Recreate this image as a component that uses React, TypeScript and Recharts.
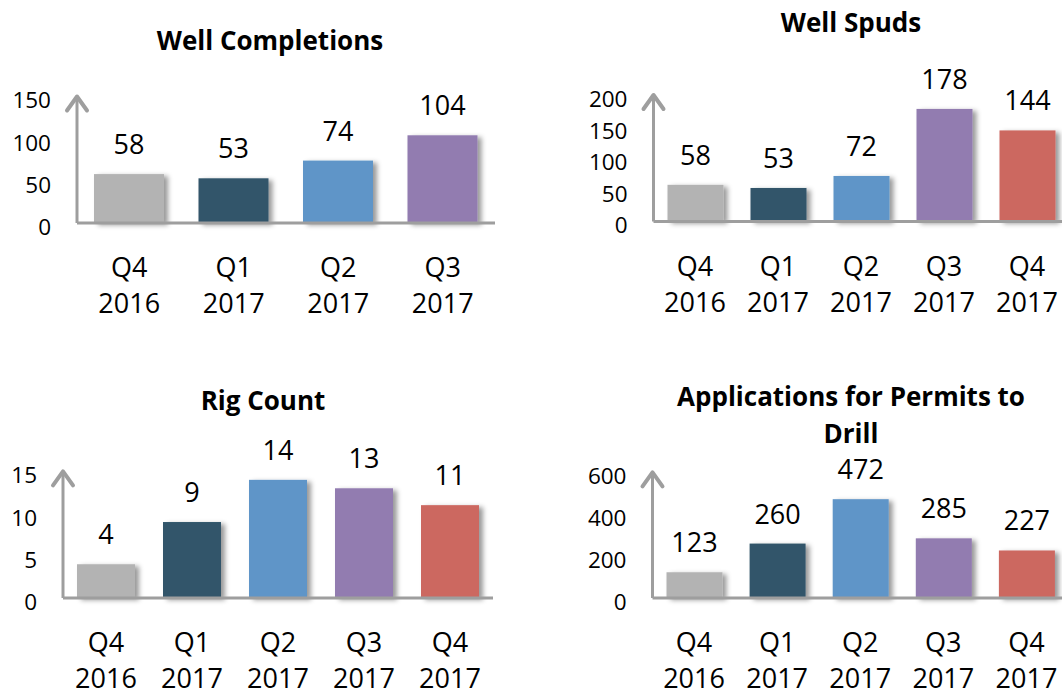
import React from 'react';
import { BarChart, Bar, XAxis, YAxis, Cell, LabelList } from 'recharts';

const FONT = '"Open Sans", "Noto Sans", sans-serif';
const AXIS_GRAY = '#9e9e9e';

const completionQuarters = ['Q4 2016', 'Q1 2017', 'Q2 2017', 'Q3 2017'];
const completionValues = [58, 53, 74, 104];
const completionTicks = [0, 50, 100, 150];

const quarters = ['Q4 2016', 'Q1 2017', 'Q2 2017', 'Q3 2017', 'Q4 2017'];
const spudValues = [58, 53, 72, 178, 144];
const spudTicks = [0, 50, 100, 150, 200];

const rigValues = [4, 9, 14, 13, 11];
const rigTicks = [0, 5, 10, 15];

const apdValues = [123, 260, 472, 285, 227];
const apdTicks = [0, 200, 400, 600];

const barColors = ['#b3b3b3', '#31556a', '#5e95c8', '#927bb0', '#cc6760'];

const toRows = (cats: string[], vals: number[]) => cats.map((q, i) => ({ q, v: vals[i] }));

const YTick = (props: any) => {
  const { x, y, payload } = props;
  return (
    <text x={x} y={y + 4} dy="0.355em" textAnchor="end" fontSize={22.5} fill="#000" fontFamily={FONT}>
      {payload.value}
    </text>
  );
};

const XTick = (props: any) => {
  const { x, y, payload } = props;
  const [q, yr] = String(payload.value).split(' ');
  return (
    <text textAnchor="middle" fontSize={27} fill="#000" fontFamily={FONT}>
      <tspan x={x} y={y + 54}>{q}</tspan>
      <tspan x={x} y={y + 90}>{yr}</tspan>
    </text>
  );
};

const ShadowBar = (props: any) => {
  const { x, y, width, height, fill } = props;
  if (!height || height <= 0) return null;
  return <rect x={x} y={y} width={width} height={height} fill={fill} filter="url(#barShadow)" />;
};

interface PanelProps {
  left: number;
  top: number;
  width: number;
  marginLeft: number;
  marginTop: number;
  plotHeight: number;
  data: { q: string; v: number }[];
  ticks: number[];
  barSize: number;
}

const Panel = ({ left, top, width, marginLeft, marginTop, plotHeight, data, ticks, barSize }: PanelProps) => {
  const height = marginTop + plotHeight + 100;
  return (
    <div style={{ position: 'absolute', left, top }}>
      <BarChart
        width={width}
        height={height}
        data={data}
        margin={{ top: marginTop, right: 0, left: marginLeft, bottom: 0 }}
        barCategoryGap={0}
      >
        <XAxis
          dataKey="q"
          type="category"
          height={100}
          interval={0}
          tickLine={false}
          tickSize={0}
          tickMargin={0}
          tick={<XTick />}
          axisLine={{ stroke: AXIS_GRAY, strokeWidth: 3 }}
        />
        <YAxis
          type="number"
          width={60}
          domain={[0, ticks[ticks.length - 1]]}
          ticks={ticks}
          interval={0}
          tickLine={false}
          tickSize={0}
          tickMargin={26}
          tick={<YTick />}
          axisLine={{ stroke: AXIS_GRAY, strokeWidth: 3, markerStart: 'url(#axisArrow)' }}
        />
        <Bar dataKey="v" barSize={barSize} isAnimationActive={false} shape={<ShadowBar />}>
          {data.map((d, i) => (
            <Cell key={d.q} fill={barColors[i]} />
          ))}
          <LabelList dataKey="v" position="top" offset={20} fill="#000" fontSize={27} fontFamily={FONT} />
        </Bar>
      </BarChart>
    </div>
  );
};

const Title = ({ cx, cy, lines }: { cx: number; cy: number; lines: string[] }) => (
  <div
    style={{
      position: 'absolute',
      left: cx,
      top: cy,
      transform: 'translate(-50%, -50%)',
      whiteSpace: 'nowrap',
      textAlign: 'center',
      fontFamily: FONT,
      fontWeight: 700,
      fontSize: 26,
      lineHeight: '37px',
      color: '#000',
    }}
  >
    {lines.map((l) => (
      <div key={l}>{l}</div>
    ))}
  </div>
);

export default function App() {
  return (
    <div
      style={{
        position: 'absolute',
        left: 0,
        top: 0,
        width: 1062,
        height: 698,
        overflow: 'hidden',
        background: '#fff',
      }}
    >
      <svg width={0} height={0} style={{ position: 'absolute' }}>
        <defs>
          <filter id="barShadow" x="-20%" y="-20%" width="150%" height="150%">
            <feDropShadow dx={4} dy={2} stdDeviation={2.5} floodColor="#000" floodOpacity={0.4} />
          </filter>
          <marker
            id="axisArrow"
            markerUnits="userSpaceOnUse"
            markerWidth={24}
            markerHeight={20}
            refX={12}
            refY={2}
            orient="0"
            viewBox="0 0 24 20"
            overflow="visible"
          >
            <path
              d="M2 16 L12 2 L22 16"
              fill="none"
              stroke={AXIS_GRAY}
              strokeWidth={4}
              strokeLinecap="round"
              strokeLinejoin="round"
            />
          </marker>
        </defs>
      </svg>

      <Title cx={270} cy={40} lines={['Well Completions']} />
      <Title cx={851} cy={22} lines={['Well Spuds']} />
      <Title cx={263} cy={400} lines={['Rig Count']} />
      <Title cx={851} cy={415} lines={['Applications for Permits to', 'Drill']} />

      <Panel
        left={0}
        top={0}
        width={495}
        marginLeft={17}
        marginTop={96.5}
        plotHeight={126.5}
        data={toRows(completionQuarters, completionValues)}
        ticks={completionTicks}
        barSize={70}
      />
      <Panel
        left={560}
        top={0}
        width={508.5}
        marginLeft={33.5}
        marginTop={95}
        plotHeight={126.5}
        data={toRows(quarters, spudValues)}
        ticks={spudTicks}
        barSize={56}
      />
      <Panel
        left={0}
        top={350}
        width={493}
        marginLeft={3}
        marginTop={121.4}
        plotHeight={126.6}
        data={toRows(quarters, rigValues)}
        ticks={rigTicks}
        barSize={58}
      />
      <Panel
        left={560}
        top={350}
        width={508}
        marginLeft={32.5}
        marginTop={122.4}
        plotHeight={125.6}
        data={toRows(quarters, apdValues)}
        ticks={apdTicks}
        barSize={56}
      />
    </div>
  );
}
